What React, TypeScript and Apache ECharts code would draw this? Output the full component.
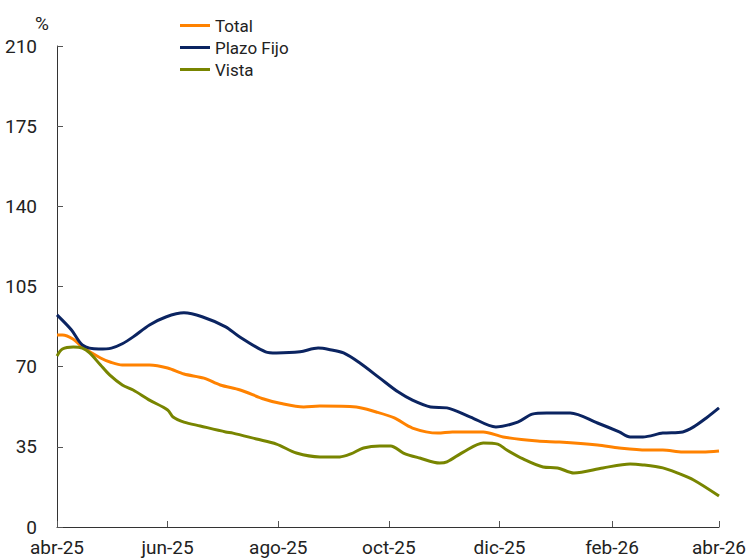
import React, { useEffect, useRef } from "react";
import * as echarts from "echarts";

// x = days since 1-abr-2025
const tickDays = [0, 61, 122, 183, 244, 306, 365];
const tickLabels = ["abr-25", "jun-25", "ago-25", "oct-25", "dic-25", "feb-26", "abr-26"];
const yTicks = [0, 35, 70, 105, 140, 175, 210];

const seriesNames = ["Total", "Plazo Fijo", "Vista"];

const totalDays = [0, 3, 9, 14, 24, 30, 36, 51, 61, 70, 81, 90, 101, 114, 123, 136, 145, 165, 176, 186, 196, 210, 218, 235, 246, 265, 277, 298, 310, 325, 334, 345, 356, 365];
const totalValues = [83.8, 83.8, 82, 78.6, 73.8, 71.8, 70.7, 70.7, 69.4, 66.8, 65, 62, 59.8, 55.9, 54, 52.4, 52.8, 52.4, 50.2, 47.6, 43.2, 41, 41.5, 41.5, 39.3, 37.5, 37.1, 35.8, 34.5, 33.6, 33.6, 32.7, 32.7, 33.2];

const plazoDays = [0, 8, 14, 23, 30, 36, 42, 51, 60, 70, 80, 93, 100, 115, 121, 134, 144, 150, 158, 167, 178, 188, 196, 206, 215, 228, 242, 254, 262, 270, 283, 298, 310, 316, 323, 334, 345, 351, 358, 365];
const plazoValues = [92.6, 86, 79.5, 77.7, 78.1, 80, 83, 88.2, 91.7, 93.5, 91.8, 87.4, 83.4, 76.5, 76, 76.5, 78.1, 77.5, 76, 71.6, 65, 59, 55.4, 52.4, 52, 48, 43.7, 45.8, 49.3, 49.8, 49.8, 45.4, 41.5, 39.3, 39.3, 41, 41.5, 43.7, 47.6, 52];

const vistaDays = [0, 3, 9, 14, 18, 24, 29, 36, 42, 51, 61, 64, 70, 79, 93, 97, 110, 121, 132, 145, 156, 162, 169, 178, 184, 191, 200, 211, 215, 224, 235, 243, 248, 257, 268, 276, 285, 301, 316, 323, 334, 342, 351, 365];
const vistaValues = [74.7, 77.7, 78.6, 78.1, 76, 70.7, 66.4, 62, 59.8, 55.4, 51.1, 48, 45.8, 44.1, 41.5, 41, 38.4, 36.2, 32.3, 30.6, 30.6, 31.9, 34.5, 35.4, 35.4, 32.3, 30.1, 27.9, 28.4, 32.7, 36.7, 36.2, 33.6, 29.7, 26.2, 25.8, 23.6, 25.8, 27.5, 27.1, 25.8, 23.6, 20.5, 13.5];

const colors = ["#FF8200", "#0B2461", "#788500"];

const zip = (xs: number[], ys: number[]) => xs.map((x, i) => [x, ys[i]]);

export default function App() {
  const ref = useRef<HTMLDivElement>(null);
  useEffect(() => {
    if (!ref.current) return;
    const chart = echarts.init(ref.current, null, { renderer: "svg" });
    const font = "Roboto";
    chart.setOption({
      animation: false,
      color: colors,
      textStyle: { fontFamily: font },
      grid: { left: 57, right: 32, top: 46, bottom: 31, containLabel: false },
      legend: {
        orient: "vertical",
        left: 175,
        top: 12,
        itemWidth: 30,
        itemHeight: 3,
        itemGap: 5,
        icon: "rect",
        textStyle: { fontSize: 17, color: "#222", fontFamily: font },
        data: seriesNames,
      },
      xAxis: {
        type: "value",
        min: 0,
        max: 365,
        splitLine: { show: false },
        axisLine: { lineStyle: { color: "#333", width: 1 } },
        axisTick: { inside: true, length: 6, customValues: tickDays, lineStyle: { color: "#555" } },
        axisLabel: {
          customValues: tickDays,
          fontSize: 19,
          lineHeight: 17,
          color: "#222",
          margin: 12,
          fontFamily: font,
          formatter: (v: number) => {
            const i = tickDays.indexOf(Math.round(v));
            return i >= 0 ? tickLabels[i] : "";
          },
        },
      },
      yAxis: {
        type: "value",
        min: 0,
        max: 210,
        interval: 35,
        name: "%",
        nameLocation: "end",
        nameGap: 13,
        nameTextStyle: { fontSize: 19, color: "#222", padding: [0, 30, 0, 0], fontFamily: font },
        splitLine: { show: false },
        axisLine: { show: true, lineStyle: { color: "#333", width: 1 } },
        axisTick: { show: true, inside: true, length: 6, lineStyle: { color: "#555" } },
        axisLabel: {
          fontSize: 19,
          lineHeight: 15,
          color: "#222",
          margin: 20,
          fontFamily: font,
          formatter: (v: number) => (yTicks.includes(v) ? String(v) : ""),
        },
      },
      series: [
        { name: seriesNames[0], type: "line", data: zip(totalDays, totalValues), symbol: "none", smooth: 0.3, lineStyle: { width: 3, color: colors[0] } },
        { name: seriesNames[1], type: "line", data: zip(plazoDays, plazoValues), symbol: "none", smooth: 0.3, lineStyle: { width: 3, color: colors[1] } },
        { name: seriesNames[2], type: "line", data: zip(vistaDays, vistaValues), symbol: "none", smooth: 0.3, lineStyle: { width: 3, color: colors[2] } },
      ],
    });
    return () => chart.dispose();
  }, []);
  return <div ref={ref} style={{ width: 751, height: 558, position: "absolute", left: 0, top: 0 }} />;
}
